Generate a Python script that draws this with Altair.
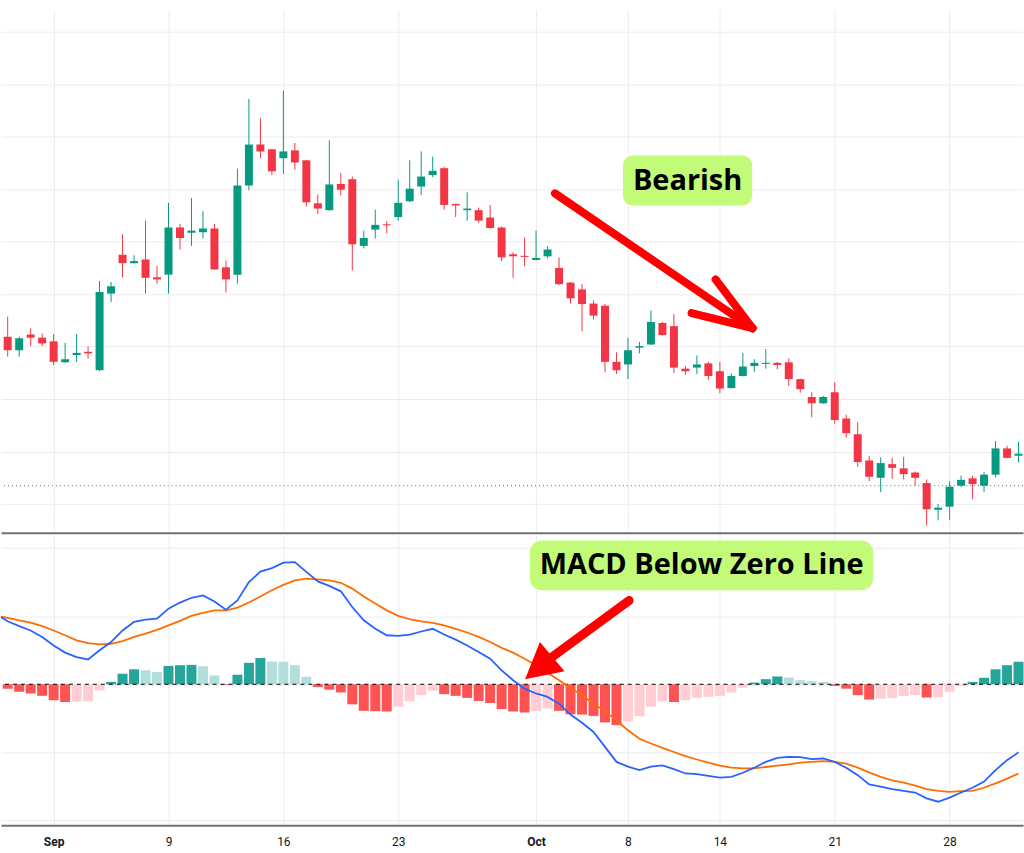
import altair as alt
import pandas as pd

# ---------------- data ----------------
opens = [23.19, 22.93, 23.23, 23.17, 23.10, 22.70, 22.84, 22.90, 22.55, 24.01,
         24.75, 24.59, 24.66, 24.32, 24.37, 25.27, 25.17, 25.18, 25.25, 24.51,
         24.37, 26.07, 26.85, 26.76, 26.59, 26.74, 26.55, 25.73, 25.60, 26.10,
         26.19, 24.92, 25.23, 25.33, 25.47, 25.77, 26.05, 26.27, 26.40, 25.72,
         25.60, 25.60, 25.46, 25.27, 24.76, 24.73, 24.65, 24.72, 24.50, 24.22,
         24.09, 23.82, 23.78, 22.71, 22.66, 22.98, 23.04, 23.45, 23.39, 22.58,
         22.60, 22.68, 22.53, 22.21, 22.44, 22.63, 22.67, 22.69, 22.70, 22.38,
         22.04, 21.92, 22.13, 21.63, 21.33, 20.83, 20.50, 20.76, 20.68, 20.60,
         20.40, 19.89, 19.95, 20.35, 20.49, 20.35, 20.56, 21.06, 20.92]
closes = [22.93, 23.16, 23.17, 23.06, 22.71, 22.76, 22.88, 22.87, 24.04, 24.15,
          24.59, 24.63, 24.31, 24.28, 25.27, 25.07, 25.21, 25.25, 24.47, 24.28,
          26.07, 26.85, 26.72, 26.34, 26.72, 26.51, 25.75, 25.63, 26.09, 25.99,
          24.95, 25.07, 25.32, 25.31, 25.74, 26.01, 26.24, 26.35, 25.70, 25.69,
          25.63, 25.40, 25.26, 24.70, 24.72, 24.71, 24.69, 24.85, 24.19, 23.92,
          23.81, 23.59, 22.71, 22.55, 22.93, 23.01, 23.47, 23.22, 22.60, 22.53,
          22.66, 22.44, 22.20, 22.44, 22.62, 22.69, 22.69, 22.65, 22.38, 22.19,
          21.92, 22.04, 21.60, 21.35, 20.80, 20.52, 20.78, 20.69, 20.57, 20.50,
          19.90, 19.93, 20.33, 20.46, 20.38, 20.56, 21.06, 20.88, 20.96]
highs = [23.57, 23.19, 23.35, 23.25, 23.24, 23.07, 23.24, 23.00, 24.25, 24.23,
         25.14, 24.74, 25.40, 24.54, 25.74, 25.34, 25.83, 25.58, 25.34, 24.64,
         26.39, 27.72, 27.35, 26.77, 27.88, 26.88, 26.56, 25.90, 26.93, 26.31,
         26.24, 25.21, 25.61, 25.39, 26.18, 26.55, 26.72, 26.62, 26.43, 25.72,
         25.94, 25.65, 25.70, 25.29, 24.80, 25.08, 25.21, 24.91, 24.70, 24.23,
         24.19, 23.88, 23.81, 22.89, 23.17, 23.09, 23.69, 23.47, 23.62, 22.63,
         22.83, 22.71, 22.71, 22.49, 22.88, 22.76, 22.95, 22.71, 22.77, 22.39,
         22.13, 22.06, 22.32, 21.70, 21.56, 20.92, 20.89, 20.88, 20.90, 20.62,
         20.47, 20.00, 20.43, 20.54, 20.54, 20.61, 21.20, 21.11, 21.19]
lows = [22.81, 22.81, 23.01, 23.01, 22.65, 22.69, 22.71, 22.77, 22.53, 23.85,
        24.32, 24.58, 24.01, 24.20, 24.01, 24.85, 24.92, 25.06, 24.46, 24.03,
        24.20, 25.98, 26.59, 26.27, 26.29, 26.37, 25.67, 25.53, 25.59, 25.88,
        24.45, 24.87, 25.06, 25.16, 25.40, 25.75, 25.89, 26.23, 25.61, 25.47,
        25.40, 25.36, 25.25, 24.63, 24.31, 24.53, 24.64, 24.68, 24.17, 23.82,
        23.29, 23.52, 22.51, 22.48, 22.38, 22.87, 23.03, 23.21, 22.50, 22.46,
        22.48, 22.36, 22.11, 22.20, 22.43, 22.52, 22.58, 22.57, 22.25, 22.12,
        21.65, 21.91, 21.53, 21.26, 20.71, 20.43, 20.23, 20.48, 20.47, 20.35,
        19.59, 19.69, 19.70, 20.32, 20.09, 20.23, 20.51, 20.87, 20.79]

hist = [-0.13, -0.22, -0.27, -0.34, -0.47, -0.52, -0.51, -0.50, -0.18, 0.07,
        0.31, 0.44, 0.41, 0.36, 0.54, 0.56, 0.57, 0.53, 0.26, -0.02,
        0.28, 0.63, 0.77, 0.67, 0.66, 0.56, 0.22, -0.08, -0.16, -0.24,
        -0.59, -0.78, -0.79, -0.80, -0.66, -0.50, -0.32, -0.19, -0.29, -0.34,
        -0.40, -0.49, -0.55, -0.73, -0.80, -0.83, -0.79, -0.71, -0.78, -0.88,
        -0.89, -0.93, -1.12, -1.20, -1.09, -0.94, -0.66, -0.50, -0.52, -0.47,
        -0.40, -0.37, -0.34, -0.24, -0.10, 0.05, 0.15, 0.23, 0.20, 0.12,
        0.09, 0.07, -0.05, -0.13, -0.32, -0.45, -0.42, -0.40, -0.35, -0.32,
        -0.39, -0.38, -0.22, -0.05, 0.07, 0.19, 0.44, 0.56, 0.66]

# MACD and signal lines start one bar before the first visible candle
macd = [2.06,
        1.85, 1.71, 1.58, 1.39, 1.14, 0.93, 0.80, 0.73, 1.00, 1.24,
        1.58, 1.83, 1.90, 1.93, 2.22, 2.40, 2.54, 2.61, 2.43, 2.19,
        2.46, 3.00, 3.31, 3.41, 3.57, 3.59, 3.30, 3.02, 2.89, 2.73,
        2.27, 1.88, 1.63, 1.44, 1.42, 1.46, 1.55, 1.63, 1.46, 1.31,
        1.14, 0.95, 0.75, 0.41, 0.12, -0.13, -0.27, -0.37, -0.57, -0.89,
        -1.13, -1.40, -1.84, -2.28, -2.42, -2.52, -2.42, -2.38, -2.49, -2.62,
        -2.64, -2.69, -2.74, -2.72, -2.60, -2.45, -2.28, -2.16, -2.13, -2.14,
        -2.20, -2.18, -2.28, -2.45, -2.67, -2.94, -3.01, -3.08, -3.13, -3.18,
        -3.35, -3.45, -3.33, -3.18, -3.04, -2.86, -2.52, -2.23, -2.00]
signal = [2.01,
          1.95, 1.88, 1.81, 1.71, 1.58, 1.44, 1.29, 1.21, 1.17, 1.19,
          1.27, 1.39, 1.49, 1.60, 1.73, 1.86, 2.01, 2.10, 2.17, 2.17,
          2.25, 2.40, 2.58, 2.76, 2.92, 3.05, 3.10, 3.08, 3.05, 2.98,
          2.81, 2.58, 2.37, 2.17, 2.01, 1.91, 1.85, 1.80, 1.73, 1.63,
          1.52, 1.39, 1.24, 1.07, 0.93, 0.75, 0.56, 0.34, 0.12, -0.11,
          -0.32, -0.57, -0.79, -1.06, -1.35, -1.60, -1.74, -1.87, -1.99, -2.11,
          -2.21, -2.30, -2.39, -2.45, -2.47, -2.47, -2.43, -2.39, -2.35, -2.30,
          -2.28, -2.26, -2.28, -2.33, -2.45, -2.59, -2.72, -2.82, -2.89, -2.98,
          -3.08, -3.13, -3.16, -3.14, -3.13, -3.04, -2.91, -2.77, -2.62]

tick_pos = [4, 14, 24, 34, 46, 54, 62, 72, 82]
tick_labels = ["Sep", "9", "16", "23", "Oct", "8", "14", "21", "28"]
month_ticks = [4, 46]
ref_price = 20.35

# annotations (in data units)
bearish_text = "Bearish"
bearish_box = dict(x=53.57, x2=64.81, y=26.64, y2=25.69, tx=59.19, ty=26.16)
bearish_arrow = [(47.64, 25.92, 64.84, 23.35),
                 (61.63, 24.28, 64.84, 23.35),
                 (59.54, 23.64, 64.84, 23.35)]
macd_text = "MACD Below Zero Line"
macd_box = dict(x=45.46, x2=75.35, y=4.22, y2=2.76, tx=60.41, ty=3.50)
macd_arrow = [(54.09, 2.46, 47.20, 0.75)]
macd_arrow_head = dict(x=46.32, y=0.506, angle=230)

# ---------------- styling ----------------
GREEN = "#089981"
RED = "#f23645"
GRID = "#ececef"
W = 1024
XDOM = [-0.582, 88.39]
ANN_FONT = "Open Sans"
HIST_COLORS = {"pos_up": "#26a69a", "pos_down": "#b2dfdb",
               "neg_down": "#ff5252", "neg_up": "#ffcdd2"}
LINE_COLORS = {"MACD": "#2962ff", "Signal": "#ff6d00"}

n = len(opens)
bars = list(range(n))
candles = pd.DataFrame({"bar": bars, "open": opens, "close": closes,
                        "high": highs, "low": lows})
candles["col"] = [GREEN if c >= o else RED for o, c in zip(opens, closes)]

hkind = []
for k, h in enumerate(hist):
    prev = hist[k - 1] if k > 0 else None
    if h >= 0:
        hkind.append("pos_up" if (prev is None or h > prev) else "pos_down")
    else:
        hkind.append("neg_down" if (prev is None or h < prev) else "neg_up")
hdf = pd.DataFrame({"bar": bars, "hist": hist,
                    "col": [HIST_COLORS[k] for k in hkind]})

lines = pd.DataFrame({
    "bar": list(range(-1, n)) * 2,
    "value": signal + macd,
    "series": ["Signal"] * len(signal) + ["MACD"] * len(macd),
})
lines["col"] = lines["series"].map(LINE_COLORS)

x_scale = alt.Scale(domain=XDOM, nice=False, zero=False, padding=0)
col_enc = alt.Color("col:N", scale=None)

# ---------------- top panel ----------------
top_x_axis = alt.Axis(values=tick_pos, labels=False, ticks=False, domain=True,
                      domainColor="#707070", domainWidth=2, grid=True,
                      gridColor=GRID, title=None)
top_y_axis = alt.Axis(values=list(range(20, 30)), labels=False, ticks=False,
                      domain=False, grid=True, gridColor=GRID, title=None)
y_price = alt.Scale(domain=[19.452, 29.418], nice=False, zero=False, padding=0)

base_top = alt.Chart(candles)
wicks = base_top.mark_rule(strokeWidth=1).encode(
    x=alt.X("bar:Q", scale=x_scale, axis=top_x_axis),
    y=alt.Y("low:Q", scale=y_price, axis=top_y_axis),
    y2="high:Q",
    color=col_enc,
)
bodies = base_top.mark_bar(size=8).encode(
    x="bar:Q", y="open:Q", y2="close:Q", color=col_enc,
)
ref_line = alt.Chart(pd.DataFrame({"p": [ref_price]})).mark_rule(
    color=GREEN, strokeDash=[1, 3], strokeWidth=1
).encode(y="p:Q")

bb = pd.DataFrame([bearish_box])
b_rect = alt.Chart(bb).mark_rect(color="#c1fb78", cornerRadius=10).encode(
    x="x:Q", x2="x2:Q", y="y:Q", y2="y2:Q")
b_text = alt.Chart(bb).mark_text(font=ANN_FONT, fontSize=29, fontWeight="bold",
                                 color="#000000", baseline="middle", align="center").encode(
    x="tx:Q", y="ty:Q", text=alt.value(bearish_text))
ba = pd.DataFrame(bearish_arrow, columns=["x", "y", "x2", "y2"])
b_arrow = alt.Chart(ba).mark_rule(color="#ff0000", strokeWidth=8, strokeCap="round").encode(
    x="x:Q", y="y:Q", x2="x2:Q", y2="y2:Q")

top = alt.layer(wicks, bodies, ref_line, b_rect, b_text, b_arrow).properties(width=W, height=524)

# ---------------- bottom panel ----------------
label_map = "{" + ",".join(f"'{p}':'{l}'" for p, l in zip(tick_pos, tick_labels)) + "}"
bold_test = " || ".join(f"datum.value == {p}" for p in month_ticks)
bot_x_axis = alt.Axis(values=tick_pos, labelExpr=f"{label_map}[datum.value]",
                      ticks=False, domain=True, domainColor="#707070", domainWidth=2,
                      grid=True, gridColor=GRID, title=None, labelFont="Roboto",
                      labelFontSize=12, labelColor="#131722", labelPadding=11,
                      labelFontWeight={"condition": {"test": bold_test, "value": "bold"},
                                       "value": "normal"})
bot_y_axis = alt.Axis(values=list(range(-4, 5)), labels=False, ticks=False,
                      domain=False, grid=True, gridColor=GRID, title=None)
y_macd = alt.Scale(domain=[-4.14, 4.42], nice=False, zero=False, padding=0)

hbars = alt.Chart(hdf).mark_bar(size=10).encode(
    x=alt.X("bar:Q", scale=x_scale, axis=bot_x_axis),
    y=alt.Y("hist:Q", scale=y_macd, axis=bot_y_axis),
    y2=alt.datum(0),
    color=col_enc,
)
zero_line = alt.Chart(pd.DataFrame({"z": [0]})).mark_rule(
    color="#000000", strokeDash=[4, 4], strokeWidth=1).encode(y="z:Q")
mlines = alt.Chart(lines).mark_line(strokeWidth=1.8, clip=True).encode(
    x="bar:Q", y="value:Q",
    color=col_enc,
    order=alt.Order("bar:Q"),
    detail="series:N",
)
mb = pd.DataFrame([macd_box])
m_rect = alt.Chart(mb).mark_rect(color="#c1fb78", cornerRadius=12).encode(
    x="x:Q", x2="x2:Q", y="y:Q", y2="y2:Q")
m_text = alt.Chart(mb).mark_text(font=ANN_FONT, fontSize=29, fontWeight="bold",
                                 color="#000000", baseline="middle", align="center").encode(
    x="tx:Q", y="ty:Q", text=alt.value(macd_text))
ma = pd.DataFrame(macd_arrow, columns=["x", "y", "x2", "y2"])
m_arrow = alt.Chart(ma).mark_rule(color="#ff0000", strokeWidth=9, strokeCap="round").encode(
    x="x:Q", y="y:Q", x2="x2:Q", y2="y2:Q")
mh = pd.DataFrame([macd_arrow_head])
m_head = alt.Chart(mh).mark_point(
    shape="M 0 -1 L 1 0.85 L -1 0.85 Z", filled=True, size=1475,
    angle=macd_arrow_head["angle"], color="#ff0000", opacity=1, strokeWidth=0
).encode(x="x:Q", y="y:Q")

bottom = alt.layer(hbars, zero_line, mlines, m_rect, m_text, m_arrow, m_head).properties(
    width=W, height=292)

chart = alt.vconcat(top, bottom, spacing=1).properties(
    padding={"left": 0, "top": 9, "right": 0, "bottom": 0},
    background="#ffffff",
).configure_view(stroke=None)

chart.save("out.html", embed_options={"renderer": "svg", "actions": False})
